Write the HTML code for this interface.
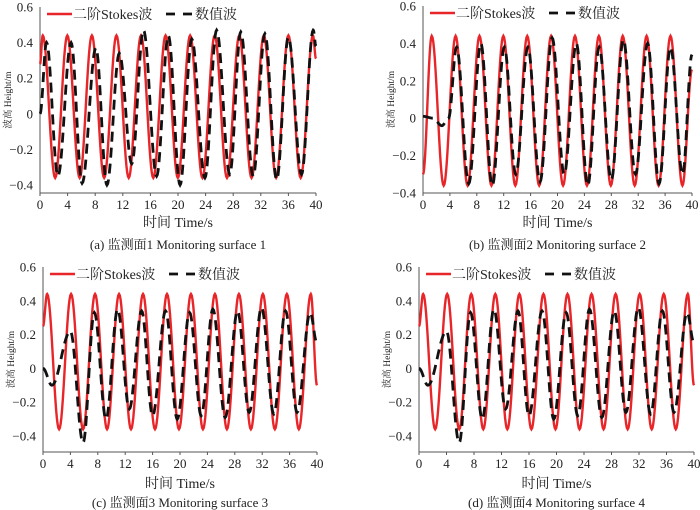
<!DOCTYPE html>
<html><head><meta charset="utf-8">
<style>
html,body{margin:0;padding:0;background:#fff;}
svg{display:block;}
text{font-family:"Liberation Serif","Noto Serif CJK SC","Noto Sans CJK SC",serif;fill:#222;}
</style></head>
<body>
<svg id="chart" width="700" height="510" viewBox="0 0 700 510"></svg>
<script>
const xTicks = [0,4,8,12,16,20,24,28,32,36,40];
const yTicks = [0.6,0.4,0.2,0,-0.2,-0.4];
const yTickLabels = ["0.6","0.4","0.2","0","\u22120.2","\u22120.4"];
const captions = ["(a) 监测面1 Monitoring surface 1","(b) 监测面2 Monitoring surface 2","(c) 监测面3 Monitoring surface 3","(d) 监测面4 Monitoring surface 4"];

const stokesA_t = [0,0.4,2.2,3.96,5.75,7.52,9.3,11.08,12.86,14.64,16.42,18.2,19.98,21.76,23.54,25.32,27.1,28.88,30.66,32.44,34.22,36.0,37.78,39.56,40];
const stokesA_v = [0.28,0.44,-0.36,0.44,-0.36,0.44,-0.36,0.44,-0.36,0.44,-0.36,0.44,-0.36,0.44,-0.36,0.44,-0.36,0.44,-0.36,0.44,-0.36,0.44,-0.36,0.44,0.31];
const numA_t = [0,0.95,2.6,4.5,6.1,8.1,9.7,11.5,13.3,15.0,16.9,18.6,20.3,22.0,23.9,25.6,27.5,29.1,30.9,32.6,34.3,36.0,37.9,39.6,40];
const numA_v = [0,0.40,-0.35,0.40,-0.39,0.37,-0.40,0.34,-0.28,0.47,-0.35,0.44,-0.40,0.42,-0.36,0.47,-0.34,0.46,-0.35,0.45,-0.37,0.43,-0.34,0.47,0.38];

const stokesB_t = [0,1.3,3.08,4.85,6.63,8.4,10.18,11.95,13.73,15.5,17.28,19.05,20.83,22.6,24.38,26.15,27.93,29.7,31.48,33.25,35.03,36.8,38.58,40];
const stokesB_v = [-0.30,0.44,-0.36,0.44,-0.36,0.44,-0.36,0.44,-0.36,0.44,-0.36,0.44,-0.36,0.44,-0.36,0.44,-0.36,0.44,-0.36,0.44,-0.36,0.44,-0.36,0.26];
const numB_t = [0,1.5,2.8,3.8,5.0,6.8,8.6,10.3,12.1,13.8,15.6,17.4,19.2,21.0,22.8,24.5,26.2,28.0,29.8,31.6,33.4,35.1,36.8,38.6,40];
const numB_v = [0.01,0,-0.04,0,0.38,-0.35,0.40,-0.36,0.38,-0.30,0.38,-0.34,0.43,-0.30,0.40,-0.36,0.38,-0.33,0.42,-0.30,0.40,-0.35,0.38,-0.30,0.34];

const stokesC_t = [0,0.6,2.35,4.1,5.85,7.6,9.35,11.1,12.85,14.6,16.35,18.1,19.85,21.6,23.35,25.1,26.85,28.6,30.35,32.1,33.85,35.6,37.35,39.1,40];
const stokesC_v = [0.25,0.44,-0.36,0.44,-0.36,0.44,-0.36,0.44,-0.36,0.44,-0.36,0.44,-0.36,0.44,-0.36,0.44,-0.36,0.44,-0.36,0.44,-0.36,0.44,-0.36,0.44,-0.10];
const numC_t = [0,1.3,4.0,5.85,7.5,9.2,10.9,12.6,14.4,16.0,17.9,19.6,21.4,23.1,24.8,26.6,28.4,30.1,31.9,33.7,35.4,37.1,39.0,40];
const numC_v = [0,-0.10,0.22,-0.44,0.33,-0.30,0.35,-0.24,0.34,-0.28,0.34,-0.30,0.33,-0.28,0.35,-0.29,0.34,-0.26,0.36,-0.27,0.34,-0.26,0.33,0.15];

const stokesD_t = stokesC_t.slice();
const stokesD_v = stokesC_v.slice();
const numD_t = numC_t.slice();
const numD_v = numC_v.slice();

const NS='http://www.w3.org/2000/svg';
const svg=document.getElementById('chart');
function mk(tag,attrs,parent){const e=document.createElementNS(NS,tag);for(const k in attrs)e.setAttribute(k,attrs[k]);(parent||svg).appendChild(e);return e;}

const panels=[
 {L:40,R:316,yTop:7,yBot:185,axisBot:193,title:222,cap:245,st:stokesA_t,sv:stokesA_v,nt:numA_t,nv:numA_v,cap_i:0},
 {L:423,R:692,yTop:6,yBot:193,axisBot:193,title:222,cap:245,st:stokesB_t,sv:stokesB_v,nt:numB_t,nv:numB_v,cap_i:1},
 {L:43,R:317,yTop:267,yBot:436,axisBot:452,title:483,cap:503,st:stokesC_t,sv:stokesC_v,nt:numC_t,nv:numC_v,cap_i:2},
 {L:419,R:694,yTop:267,yBot:436,axisBot:452,title:483,cap:503,st:stokesD_t,sv:stokesD_v,nt:numD_t,nv:numD_v,cap_i:3}
];

function curvePath(ts,vs,X,Y){
  let d='M'+X(ts[0]).toFixed(2)+','+Y(vs[0]).toFixed(2);
  for(let i=0;i<ts.length-1;i++){
    const n=16;
    for(let j=1;j<=n;j++){
      const s=j/n;const w=(1-Math.cos(Math.PI*s))/2;
      const t=ts[i]+(ts[i+1]-ts[i])*s;const v=vs[i]+(vs[i+1]-vs[i])*w;
      d+=' L'+X(t).toFixed(2)+','+Y(v).toFixed(2);
    }
  }
  return d;
}

panels.forEach((p,idx)=>{
  const g=mk('g',{});
  
  
  const X=t=>p.L+(p.R-p.L)*t/40;
  const Y=v=>p.yTop+(p.yBot-p.yTop)*(0.6-v)/1.0;
  const ya=mk('line',{x1:p.L,y1:p.yTop,x2:p.L,y2:p.axisBot,stroke:'#555','stroke-width':1},g);
  
  
  const xa=mk('line',{x1:p.L,y1:p.axisBot,x2:p.R,y2:p.axisBot,stroke:'#555','stroke-width':1},g);
  
  
  xTicks.forEach(t=>{
    mk('line',{x1:X(t),y1:p.axisBot,x2:X(t),y2:p.axisBot+3,stroke:'#555','stroke-width':1},g);
    const tl=mk('text',{x:X(t),y:p.axisBot+16,'text-anchor':'middle','font-size':13},g);
    tl.textContent=t;
    
    
  });
  yTicks.forEach((v,i)=>{
    const tl=mk('text',{x:p.L-7,y:Y(v)+4.5,'text-anchor':'end','font-size':13},g);
    tl.textContent=yTickLabels[i];
    
    
  });
  const cy=(p.yTop+p.axisBot)/2;
  const yt=mk('text',{x:0,y:0,'font-size':9.5,'text-anchor':'middle',transform:'translate('+(p.L-29)+','+cy+') rotate(-90)'},g);
  yt.textContent='波高 Height/m';
  
  
  const sp=mk('path',{d:curvePath(p.st,p.sv,X,Y),fill:'none',stroke:'#e8262a','stroke-width':2.4},g);
  
  
  const np=mk('path',{d:curvePath(p.nt,p.nv,X,Y),fill:'none',stroke:'#111','stroke-width':2.8,'stroke-dasharray':'10,6'},g);
  
  
  const ly=p.yTop+7;
  const l1=mk('line',{x1:p.L+7,y1:ly,x2:p.L+32,y2:ly,stroke:'#e8262a','stroke-width':2.4},g);
  
  
  const t1=mk('text',{x:p.L+33,y:ly+5,'font-size':14},g);
  t1.textContent='二阶Stokes波';
  
  
  const l2=mk('line',{x1:p.L+126,y1:ly,x2:p.L+152,y2:ly,stroke:'#111','stroke-width':2.8,'stroke-dasharray':'9,8'},g);
  
  
  const t2=mk('text',{x:p.L+155,y:ly+5,'font-size':14},g);
  t2.textContent='数值波';
  
  
  const xt=mk('text',{x:(p.L+p.R)/2,y:p.title+5,'text-anchor':'middle','font-size':14},g);
  xt.textContent='时间 Time/s';
  
  
  const cp=mk('text',{x:(p.L+p.R)/2,y:p.cap+4,'text-anchor':'middle','font-size':13},g);
  cp.textContent=captions[p.cap_i];
  
  
});
</script>
</body></html>
